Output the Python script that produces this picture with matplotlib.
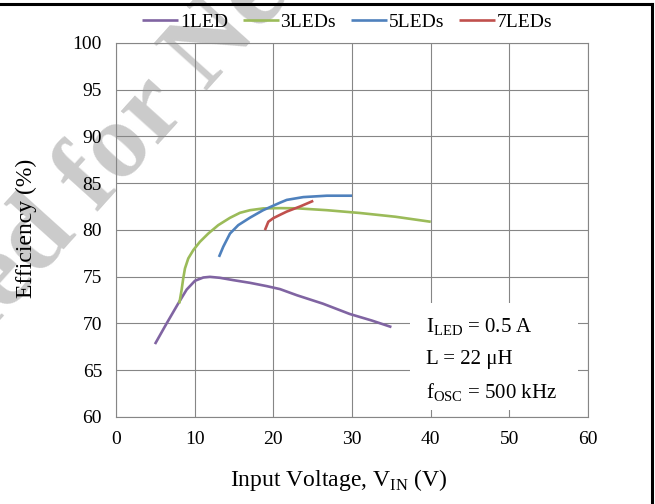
import matplotlib
matplotlib.use('Agg')
import matplotlib.pyplot as plt
from matplotlib.lines import Line2D
from matplotlib.patches import Rectangle

plt.rcParams['font.family'] = ['Liberation Serif', 'DejaVu Serif']
plt.rcParams['mathtext.fontset'] = 'custom'
plt.rcParams['mathtext.rm'] = 'Liberation Serif'

# Efficiency curves (input voltage in V, efficiency in %)
v_1led = [4.96, 6.44, 7.92, 8.98, 10.04, 11.1, 11.94, 13.2, 14.9, 17.03, 19.15, 20.84,
          23.0, 26.3, 29.7, 32.5, 35.0]
eff_1led = [67.78, 69.99, 72.13, 73.6, 74.55, 74.9, 74.97, 74.87, 74.62, 74.33, 73.98, 73.66,
            73.0, 72.1, 71.0, 70.3, 69.6]

v_3led = [8.05, 8.34, 8.55, 8.77, 9.19, 9.83, 10.67, 11.73, 13.0, 14.48, 15.76, 17.03,
          18.72, 20.84, 23.0, 26.8, 31.0, 35.5, 40.0]
eff_3led = [72.13, 73.55, 74.8, 75.87, 76.94, 77.83, 78.72, 79.6, 80.5, 81.28, 81.82, 82.1,
            82.29, 82.32, 82.3, 82.1, 81.8, 81.4, 80.86]

v_5led = [13.09, 13.64, 14.49, 15.54, 17.03, 18.7, 20.84, 21.7, 23.8, 26.8, 30.0]
eff_5led = [77.1, 78.2, 79.6, 80.5, 81.3, 82.1, 82.9, 83.2, 83.5, 83.65, 83.65]

v_7led = [18.93, 19.36, 20.0, 20.84, 21.7, 23.4, 25.07]
eff_7led = [79.97, 80.86, 81.25, 81.6, 81.95, 82.5, 83.1]

series = [
    (v_1led, eff_1led, '1LED', '#8064A2'),
    (v_3led, eff_3led, '3LEDs', '#9BBB59'),
    (v_5led, eff_5led, '5LEDs', '#4F81BD'),
    (v_7led, eff_7led, '7LEDs', '#C0504D'),
]

x_ticks = [0, 10, 20, 30, 40, 50, 60]
y_ticks = [60, 65, 70, 75, 80, 85, 90, 95, 100]

conditions = ['I$_{\\mathrm{LED}}$ = 0.5 A', 'L = 22 \u03bcH', 'f$_{\\mathrm{OSC}}$ = 500 kHz']

fig = plt.figure(figsize=(6.55, 5.04), dpi=100)
ax = fig.add_axes([0.177, 0.173, 0.721, 0.742])
ax.set_facecolor('none')

# faint diagonal watermark behind the chart
fig.text(24 / 655, 1 - 255 / 504, 'Not Recommended for New Designs', rotation=48,
         rotation_mode='anchor', ha='center', va='center', fontsize=78,
         fontweight='bold', color='#cbcbcb', zorder=-1)

grid_col = '#868686'
for x, y, name, col in series:
    ax.plot(x, y, color=col, lw=1.9, label=name, solid_capstyle='butt', zorder=3)

ax.set_xlim(0, 60)
ax.set_ylim(60, 100)
ax.set_xticks(x_ticks)
ax.set_yticks(y_ticks)
ax.grid(True, color=grid_col, lw=0.8)
ax.set_axisbelow(True)
for s in ax.spines.values():
    s.set_color(grid_col)
    s.set_linewidth(0.8)
ax.tick_params(length=0, labelsize=14)
ax.tick_params(axis='x', pad=10)
ax.tick_params(axis='y', pad=10)

ax.set_xlabel(r'Input Voltage, V$_{\mathrm{IN}}$ (V)', fontsize=17, va='center')
ax.xaxis.set_label_coords(0.472, -0.169)
ax.set_ylabel('Efficiency (%)', fontsize=17, va='center')
ax.yaxis.set_label_coords(-0.19, 0.503)

# operating conditions on a white patch over the grid
ax.add_patch(Rectangle((37.4, 60.7), 21.3, 11.45, facecolor='white', edgecolor='none', zorder=4))
for i, line in enumerate(conditions):
    ax.text(39.4, 69.6 - i * 3.5, line, fontsize=15, va='center', ha='left', zorder=5)

fig.legend(loc='center', bbox_to_anchor=(0.53, 1 - 22 / 504), ncol=4,
           frameon=False, fontsize=14, handlelength=1.85, handletextpad=0.1,
           columnspacing=0.75)

# outer frame lines
fig.add_artist(Line2D([0, 652 / 655], [1 - 4 / 504, 1 - 4 / 504], color='black', lw=2.2,
                      transform=fig.transFigure))
fig.add_artist(Line2D([652 / 655, 652 / 655], [0, 1 - 4 / 504], color='black', lw=2.2,
                      transform=fig.transFigure))

fig.savefig('out.png', dpi=100)
